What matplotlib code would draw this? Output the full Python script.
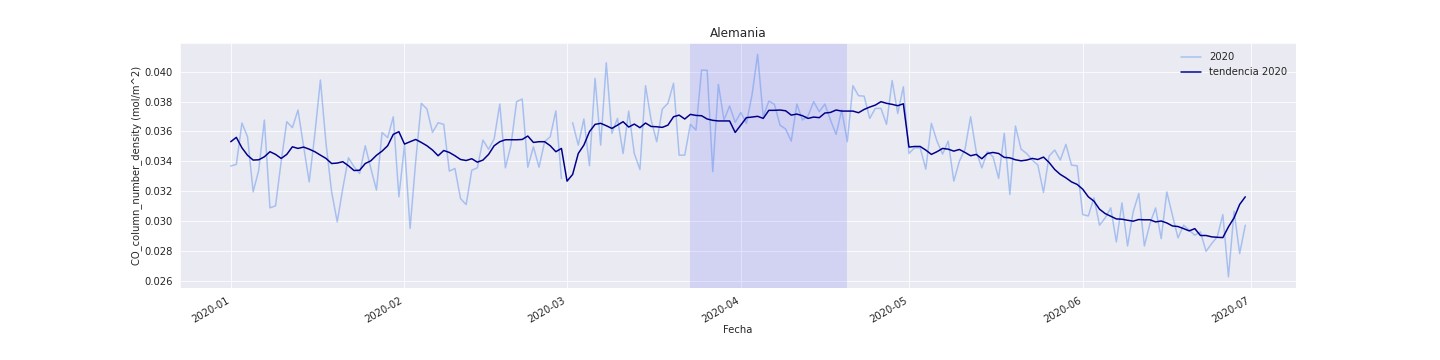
import numpy as np
import pandas as pd
import matplotlib
matplotlib.use("Agg")
import matplotlib.pyplot as plt
import seaborn as sns

sns.set_style("darkgrid")
plt.rcParams['font.family'] = ['DejaVu Sans']

title = "Alemania"
xlabel = "Fecha"
ylabel = "CO_column_number_density (mol/m^2)"
label_data = "2020"
label_trend = "tendencia 2020"

dates = pd.date_range("2020-01-01", "2020-06-30", freq="D")

co_2020 = [
    0.03368, 0.03379, 0.03656, 0.03564, 0.03195, 0.03341, 0.03676, 0.03088, 0.03102, 0.03400,
    0.03665, 0.03625, 0.03743, 0.03500, 0.03262, 0.03580, 0.03944, 0.03520, 0.03195, 0.02994,
    0.03220, 0.03423, 0.03363, 0.03318, 0.03504, 0.03352, 0.03207, 0.03593, 0.03558, 0.03698,
    0.03162, 0.03508, 0.02950, 0.03400, 0.03788, 0.03750, 0.03593, 0.03658, 0.03647, 0.03334,
    0.03352, 0.03150, 0.03110, 0.03340, 0.03356, 0.03542, 0.03480, 0.03550, 0.03783, 0.03356,
    0.03508, 0.03799, 0.03817, 0.03360, 0.03497, 0.03360, 0.03531, 0.03564, 0.03737, 0.03285,
    np.nan, 0.03658, 0.03508, 0.03683, 0.03370, 0.03955, 0.03508, 0.04060, 0.03587, 0.03687,
    0.03452, 0.03736, 0.03452, 0.03345, 0.03906, 0.03676, 0.03531, 0.03750, 0.03788, 0.03922,
    0.03441, 0.03441, 0.03647, 0.03609, 0.04011, 0.04009, 0.03330, 0.03915, 0.03676, 0.03770,
    0.03660, 0.03727, 0.03654, 0.03844, 0.04116, 0.03698, 0.03803, 0.03781, 0.03642, 0.03616,
    0.03535, 0.03783, 0.03676, 0.03705, 0.03799, 0.03732, 0.03783, 0.03676, 0.03580, 0.03743,
    0.03531, 0.03906, 0.03839, 0.03836, 0.03687, 0.03754, 0.03754, 0.03647, 0.03940, 0.03720,
    0.03899, 0.03452, 0.03490, 0.03490, 0.03348, 0.03654, 0.03535, 0.03448, 0.03535, 0.03267,
    0.03401, 0.03481, 0.03698, 0.03464, 0.03356, 0.03464, 0.03430, 0.03285, 0.03587, 0.03178,
    0.03636, 0.03481, 0.03452, 0.03408, 0.03374, 0.03191, 0.03435, 0.03475, 0.03408, 0.03513,
    0.03374, 0.03370, 0.03043, 0.03034, 0.03155, 0.02972, 0.03021, 0.03088, 0.02860, 0.03122,
    0.02833, 0.03061, 0.03184, 0.02833, 0.02983, 0.03088, 0.02882, 0.03195, 0.03039, 0.02887,
    0.02972, 0.02938, 0.02905, 0.02927, 0.02797, 0.02849, 0.02894, 0.03043, 0.02626, 0.03066,
    0.02782, 0.02972,
]

trend_2020 = [
    0.03531, 0.03560, 0.03490, 0.03440, 0.03408, 0.03410, 0.03430, 0.03464, 0.03446, 0.03419,
    0.03446, 0.03497, 0.03486, 0.03495, 0.03481, 0.03464, 0.03441, 0.03419, 0.03385, 0.03388,
    0.03397, 0.03370, 0.03338, 0.03340, 0.03385, 0.03403, 0.03440, 0.03468, 0.03504, 0.03580,
    0.03598, 0.03515, 0.03531, 0.03546, 0.03526, 0.03504, 0.03475, 0.03437, 0.03472, 0.03459,
    0.03437, 0.03412, 0.03405, 0.03417, 0.03394, 0.03408, 0.03446, 0.03504, 0.03531, 0.03544,
    0.03544, 0.03544, 0.03546, 0.03569, 0.03526, 0.03531, 0.03531, 0.03504, 0.03464, 0.03486,
    0.03267, 0.03312, 0.03452, 0.03508, 0.03598, 0.03647, 0.03654, 0.03638, 0.03620, 0.03642,
    0.03665, 0.03629, 0.03649, 0.03625, 0.03656, 0.03633, 0.03631, 0.03627, 0.03642, 0.03698,
    0.03709, 0.03683, 0.03714, 0.03707, 0.03705, 0.03683, 0.03674, 0.03670, 0.03670, 0.03670,
    0.03593, 0.03642, 0.03692, 0.03696, 0.03701, 0.03687, 0.03741, 0.03741, 0.03743, 0.03738,
    0.03709, 0.03716, 0.03705, 0.03687, 0.03696, 0.03692, 0.03723, 0.03727, 0.03743, 0.03736,
    0.03736, 0.03736, 0.03725, 0.03747, 0.03763, 0.03776, 0.03799, 0.03788, 0.03781, 0.03772,
    0.03785, 0.03495, 0.03499, 0.03499, 0.03475, 0.03446, 0.03464, 0.03486, 0.03481, 0.03468,
    0.03479, 0.03459, 0.03437, 0.03446, 0.03417, 0.03452, 0.03459, 0.03452, 0.03426, 0.03423,
    0.03410, 0.03403, 0.03408, 0.03419, 0.03412, 0.03428, 0.03392, 0.03345, 0.03312, 0.03289,
    0.03262, 0.03245, 0.03213, 0.03162, 0.03133, 0.03079, 0.03050, 0.03032, 0.03014, 0.03012,
    0.03005, 0.02999, 0.03010, 0.03008, 0.03008, 0.02994, 0.03000, 0.02987, 0.02967, 0.02963,
    0.02949, 0.02934, 0.02949, 0.02903, 0.02903, 0.02894, 0.02891, 0.02889, 0.02961, 0.03021,
    0.03111, 0.03162,
]

shade_start = "2020-03-23"
shade_end = "2020-04-20"

fig, ax = plt.subplots(figsize=(20, 5), dpi=72)
ax.plot(dates, co_2020, color="cornflowerblue", alpha=0.5, lw=1.5, label=label_data)
ax.plot(dates, trend_2020, color="darkblue", lw=1.5, label=label_trend)
ax.axvspan(pd.Timestamp(shade_start), pd.Timestamp(shade_end), color="blue", alpha=0.1, lw=0)

ax.set_title(title, fontsize=12)
ax.set_xlabel(xlabel, fontsize=10, labelpad=1)
ax.set_ylabel(ylabel, fontsize=10, labelpad=2)
ax.tick_params(labelsize=10)
ax.yaxis.set_major_formatter(matplotlib.ticker.FormatStrFormatter('%.3f'))
ax.legend(loc="upper right", fontsize=10, frameon=False)
fig.autofmt_xdate()
fig.savefig("out.png", dpi=72)
